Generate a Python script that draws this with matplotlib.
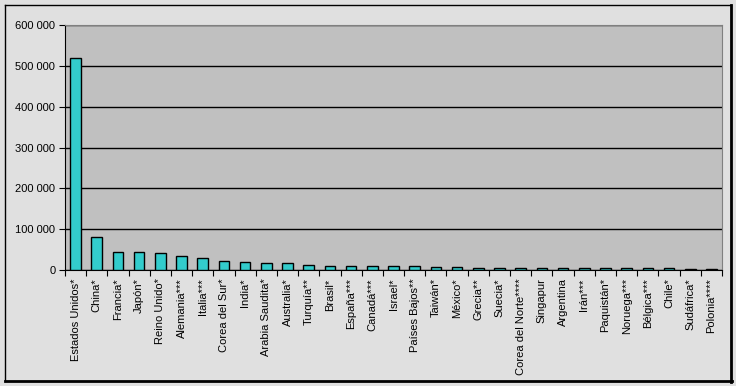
import numpy as np
import matplotlib
matplotlib.use("Agg")
import matplotlib.pyplot as plt
from matplotlib.lines import Line2D
from matplotlib.ticker import FuncFormatter

# countries and values
paises = ["Estados Unidos*", "China*", "Francia*", "Japón*", "Reino Unido*",
          "Alemania***", "Italia***", "Corea del Sur*", "India*", "Arabia Saudita*",
          "Australia*", "Turquía**", "Brasil*", "España***", "Canadá***", "Israel*",
          "Países Bajos**", "Taiwán*", "México*", "Grecia**", "Suecia*",
          "Corea del Norte****", "Singapur", "Argentina", "Irán***", "Paquistán*",
          "Noruega***", "Bélgica***", "Chile*", "Sudáfrica*", "Polonia****"]
valores = [518000, 80000, 43500, 43500, 41000, 33500, 28500, 21500, 19000, 16500,
           16500, 11500, 9000, 9000, 9000, 9000, 9000, 6600, 6600, 4100, 4100,
           4100, 4100, 4100, 4100, 4100, 4100, 4100, 4100, 1700, 1700]
yticks = [0, 100000, 200000, 300000, 400000, 500000, 600000]

plt.rcParams['font.family'] = ['Liberation Sans', 'DejaVu Sans']

W, H = 736, 386
fig = plt.figure(figsize=(W/100, H/100), dpi=100, facecolor="#E0E0E0")
ax = fig.add_axes([65/W, 1-270/H, (722-65)/W, (270-25)/H])
ax.set_facecolor("#C0C0C0")

x = np.arange(len(paises))
ax.bar(x, valores, width=0.5, color="#33CCCC", edgecolor="black", linewidth=1, zorder=3)

ax.set_xlim(-0.5, len(paises) - 0.5)
ax.set_ylim(0, 600000)

ax.set_yticks(yticks)
ax.yaxis.set_major_formatter(FuncFormatter(lambda v, p: f"{int(v):,}".replace(",", " ")))
ax.yaxis.grid(True, color="black", linewidth=1, zorder=1)
ax.set_axisbelow(True)

# ticks at the category boundaries, labels at the centres
ax.set_xticks(np.arange(-0.5, len(paises) - 0.5 + 0.01, 1.0))
ax.set_xticklabels([])
ax.set_xticks(x, minor=True)
ax.set_xticklabels(paises, minor=True, rotation=90, fontsize=8)
ax.tick_params(axis="x", which="minor", length=0, pad=6)
ax.tick_params(axis="x", which="major", length=4, direction="out", color="black")
ax.tick_params(axis="y", length=4, direction="out", labelsize=8, pad=3)

for s in ["top", "right"]:
    ax.spines[s].set_color("#808080")
for s in ["left", "bottom"]:
    ax.spines[s].set_color("black")

# figure border, with darker right and bottom edges
def px(x0, y0, x1, y1, lw):
    fig.add_artist(Line2D([x0/W, x1/W], [1-y0/H, 1-y1/H], color="black",
                          linewidth=lw, transform=fig.transFigure))

px(5, 5, 731, 5, 1)
px(5, 5, 5, 381, 1)
px(731, 5, 731, 382, 2)
px(5, 381, 732, 381, 2)

fig.savefig("out.png", dpi=100, facecolor=fig.get_facecolor())
